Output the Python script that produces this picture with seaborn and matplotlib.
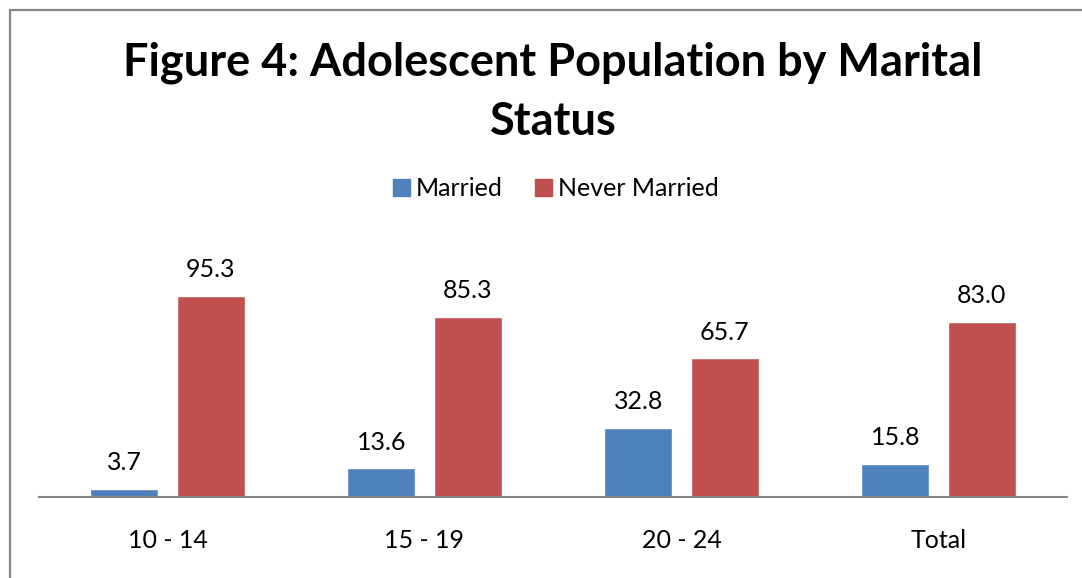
import matplotlib
matplotlib.use('Agg')
import matplotlib.pyplot as plt
import pandas as pd
import seaborn as sns
from matplotlib.patches import Rectangle

# data
age_groups = ['10 - 14', '15 - 19', '20 - 24', 'Total']
married = [3.7, 13.6, 32.8, 15.8]
never_married = [95.3, 85.3, 65.7, 83.0]

df = pd.DataFrame({
    'group': age_groups * 2,
    'value': married + never_married,
    'status': ['Married'] * 4 + ['Never Married'] * 4,
})

sns.set_theme(style='white')
plt.rcParams['font.family'] = ['Lato', 'DejaVu Sans']
plt.rcParams['text.color'] = 'black'

W, H = 1082, 578
fig = plt.figure(figsize=(W / 100, H / 100), dpi=100)

# axes placed in pixel terms
left, right, base, top = 39, 1067, 497, 200
ax = fig.add_axes([left / W, (H - base) / H, (right - left) / W, (base - top) / H])

palette = {'Married': '#4F81BD', 'Never Married': '#C0504D'}
sns.barplot(data=df, x='group', y='value', hue='status', palette=palette,
            width=0.67, gap=0.21, saturation=1, ax=ax, legend=False)

ax.set_ylim(0, (base - top) / 2.11)
ax.set_xlim(-0.5, 3.5)

for cont in ax.containers:
    for bar in cont:
        h = bar.get_height()
        ax.annotate(f'{h:.1f}', (bar.get_x() + bar.get_width() / 2, h),
                    xytext=(0, 13.5), textcoords='offset points',
                    ha='center', va='baseline', fontsize=18, color='black')

ax.set_xlabel('')
ax.set_ylabel('')
ax.set_yticks([])
for s in ['top', 'right', 'left']:
    ax.spines[s].set_visible(False)
ax.spines['bottom'].set_color('#868686')
ax.spines['bottom'].set_linewidth(1.5)
ax.tick_params(axis='x', length=0, pad=23, labelsize=18, colors='black')

# legend
handles = [Rectangle((0, 0), 1, 1, color=palette[k]) for k in ['Married', 'Never Married']]
fig.legend(handles, ['Married', 'Never Married'], loc='center',
           bbox_to_anchor=(556 / W, 1 - 189 / H), ncol=2, frameon=False,
           fontsize=18, handlelength=0.65, handleheight=0.65, handletextpad=0.25,
           columnspacing=1.3)

# title
fig.text(553 / W, 1 - 92 / H, 'Figure 4: Adolescent Population by Marital\nStatus',
         ha='center', va='center', fontsize=32.5, fontweight='bold',
         linespacing=1.5, color='black')

# chart area border
fig.patches.append(Rectangle((10 / W, -0.1), 1.2, 1 - 10 / H + 0.1,
                             transform=fig.transFigure, fill=False,
                             edgecolor='#868686', linewidth=1.6))

fig.savefig('out.png', dpi=100)
